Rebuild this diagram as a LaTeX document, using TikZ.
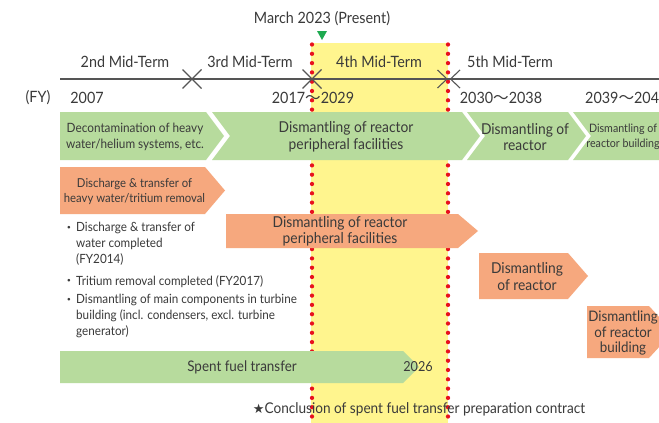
\documentclass[tikz,border=0pt]{standalone}
\usepackage{fontspec}
\setmainfont{Lato}[FakeStretch=0.92]
\newfontfamily\cjkfont{Noto Sans CJK JP}
\newfontfamily\symfont{DejaVu Sans}
\newcommand\fwtilde{{\cjkfont ～}}
\definecolor{gfill}{RGB}{183,219,157}
\definecolor{ofill}{RGB}{246,168,126}
\definecolor{yfill}{RGB}{255,245,142}
\definecolor{rdot}{RGB}{232,16,30}
\definecolor{tgray}{RGB}{58,58,58}
\definecolor{lgray}{RGB}{85,85,85}
\definecolor{tri}{RGB}{30,170,80}
\begin{document}
\begin{tikzpicture}[x=1pt,y=-1pt,
  lbl/.style={text=tgray, inner sep=0pt, font=\fontsize{15.6}{17}\selectfont},
  bigtxt/.style={text=tgray, inner sep=0pt, align=center, font=\fontsize{15}{16.5}\selectfont},
  smalltxt/.style={text=tgray, inner sep=0pt, align=center, font=\fontsize{12.6}{15.5}\selectfont},
  bultxt/.style={text=tgray, inner sep=0pt, align=left, anchor=north west, font=\fontsize{12.7}{16.2}\selectfont},
  gshape/.style={fill=gfill},
  oshape/.style={fill=ofill},
  tline/.style={draw=lgray, line width=1.1pt},
  reddots/.style={draw=rdot, line width=4.3pt, line cap=round, dash pattern=on 0pt off 9.3pt}]
\useasboundingbox (0,0) rectangle (659,423);
\clip (0,0) rectangle (659,423);
\fill[white] (0,0) rectangle (659,423);
% present band
\fill[yfill] (311,43) rectangle (448,423);
\draw[reddots] (312,44.5) -- (312,430);
\draw[reddots] (448,44.5) -- (448,430);
% timeline
\draw[tline] (60,79) -- (659,79);
\draw[tline] (182.5,69.5) -- (201.5,88.5) (182.5,88.5) -- (201.5,69.5);
\draw[tline] (302.5,69.5) -- (321.5,88.5) (302.5,88.5) -- (321.5,69.5);
\draw[tline] (437.5,70) -- (447,79) -- (437.5,88);
\draw[tline] (460,70) -- (450.5,79) -- (460,88);
\fill[tri] (317,31) -- (327,31) -- (322,40) -- cycle;
% labels
\node[lbl] (march) at (322,19) {March 2023 (Present)};
\node[lbl] (mt2) at (125,62) {2nd Mid-Term};
\node[lbl] (mt3) at (250,62) {3rd Mid-Term};
\node[lbl] (mt4) at (379,62) {4th Mid-Term};
\node[lbl] (mt5) at (510,62) {5th Mid-Term};
\node[lbl] (fy) at (38,98) {(FY)};
\node[lbl] (y2007) at (87,98) {2007};
\node[lbl] (y2017) at (313,98) {2017\fwtilde2029};
\node[lbl] (y2030) at (501,98) {2030\fwtilde2038};
\node[lbl, anchor=west] (y2039) at (585,98) {2039\fwtilde2040};
% top green row
\fill[gshape] (60,112) -- (206,112) -- (224,136) -- (206,160) -- (60,160) -- cycle;
\fill[gshape] (212,112) -- (462,112) -- (480,136) -- (462,160) -- (212,160) -- (230,136) -- cycle;
\fill[gshape] (467,112) -- (568,112) -- (586,136) -- (568,160) -- (467,160) -- (485,136) -- cycle;
\fill[gshape] (573,112) -- (670,112) -- (670,160) -- (573,160) -- (591,136) -- cycle;
\node[smalltxt, font=\fontsize{12.8}{16}\selectfont] (s1) at (135,137) {Decontamination of heavy\\water/helium systems, etc.};
\node[bigtxt] (s2) at (346,137) {Dismantling of reactor\\peripheral facilities};
\node[bigtxt] (s3) at (525,137) {Dismantling of\\reactor};
\node[smalltxt, font=\fontsize{11.6}{15}\selectfont] (s4) at (623,137) {Dismantling of\\reactor building};
% orange
\fill[oshape] (60,167) -- (205,167) -- (225,190.5) -- (205,214) -- (60,214) -- cycle;
\fill[oshape] (226,214) -- (458,214) -- (478,231) -- (458,248) -- (226,248) -- cycle;
\fill[oshape] (479,253) -- (568,253) -- (588,276) -- (568,299) -- (479,299) -- cycle;
\fill[oshape] (587,306) -- (649,306) -- (673,332) -- (649,358) -- (587,358) -- cycle;
\node[smalltxt, font=\fontsize{12.3}{15.5}\selectfont] (o1) at (134.5,191.5) {Discharge \& transfer of\\heavy water/tritium removal};
\node[bigtxt] (o2) at (340,231.5) {Dismantling of reactor\\peripheral facilities};
\node[bigtxt] (o3) at (527,276.5) {Dismantling\\of reactor};
\node[bigtxt, font=\fontsize{14.5}{15.8}\selectfont] (o4) at (623,333) {Dismantling\\of reactor\\building};
% bullets
\node[bultxt] (b1) at (76,222) {Discharge \& transfer of\\water completed\\(FY2014)};
\node[bultxt] (b2) at (76,275) {Tritium removal completed (FY2017)};
\node[bultxt] (b3) at (76,294) {Dismantling of main components in turbine\\building (incl. condensers, excl. turbine\\generator)};
\node[bultxt, anchor=center] (d1) at (69,229) {{\cjkfont ・}};
\node[bultxt, anchor=center] (d2) at (69,282) {{\cjkfont ・}};
\node[bultxt, anchor=center] (d3) at (69,301) {{\cjkfont ・}};
% spent fuel
\fill[gshape] (60,351) -- (403,351) -- (419,367) -- (403,383) -- (60,383) -- cycle;
\node[smalltxt, font=\fontsize{14.6}{15}\selectfont] (sf) at (242,367) {Spent fuel transfer};
\node[smalltxt, font=\fontsize{13.8}{15}\selectfont] (y2026) at (418,367) {2026};
\node[smalltxt, font=\fontsize{14.8}{15}\selectfont] (star) at (419,409) {{\symfont\fontsize{13}{15}\selectfont ★}Conclusion of spent fuel transfer preparation contract};
\end{tikzpicture}
\end{document}
